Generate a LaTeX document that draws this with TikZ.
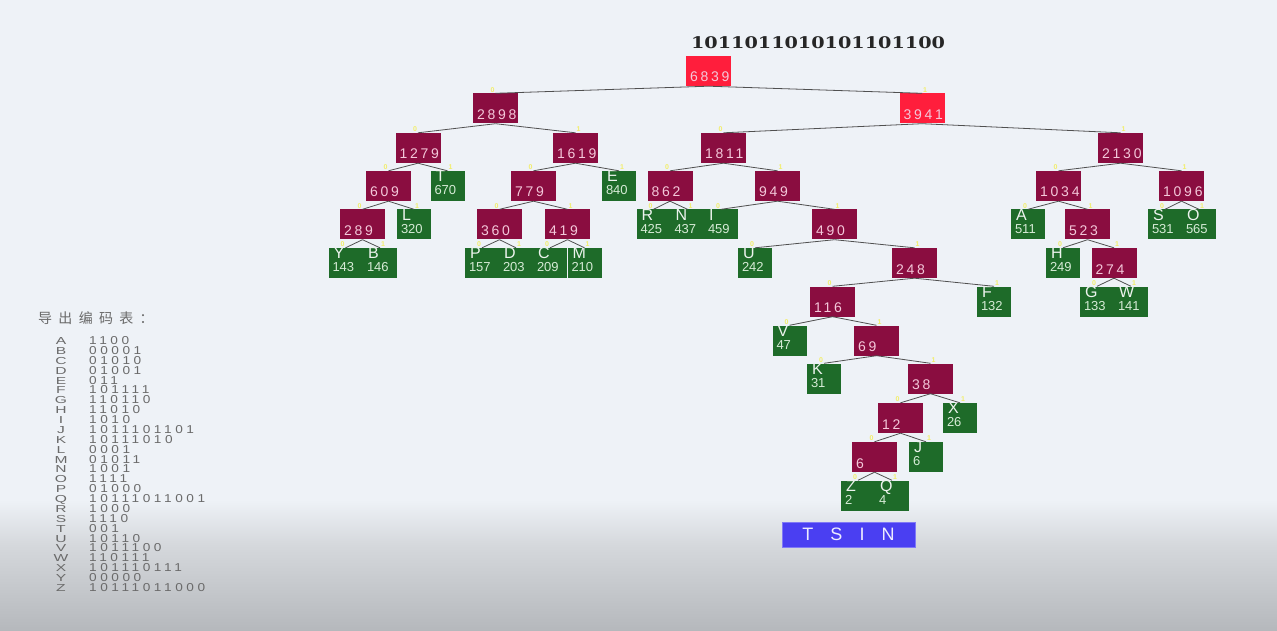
\documentclass[tikz,border=0pt]{standalone}
\usepackage{fontspec}
\usepackage{graphicx}
\setmainfont{Liberation Sans}
\newfontfamily\sumfont[LetterSpace=20]{Liberation Sans}
\newfontfamily\codefont[LetterSpace=26]{Liberation Sans}
\newfontfamily\bannerfont[LetterSpace=95]{Liberation Sans}
\newfontfamily\titlefont{DejaVu Serif}
\newfontfamily\cjkfont[LetterSpace=45]{Noto Sans CJK SC}
\definecolor{bg}{HTML}{EEF2F7}
\definecolor{bgmid}{HTML}{D5D8DC}
\definecolor{bgbot}{HTML}{B5B8BC}
\definecolor{maroon}{HTML}{8A0D40}
\definecolor{hotred}{HTML}{FF1E3C}
\definecolor{sumtext}{HTML}{F4C8DA}
\definecolor{leafgreen}{HTML}{1E6B29}
\definecolor{leaftext}{HTML}{D6EBD6}
\definecolor{edgegray}{HTML}{505050}
\definecolor{bityellow}{HTML}{F2EE6A}
\definecolor{tablegray}{HTML}{6A6A6A}
\definecolor{bannerblue}{HTML}{4A3FF2}
\usetikzlibrary{positioning}
\tikzset{
  sumbox/.style={fill=maroon, minimum width=45pt, minimum height=30pt,
    inner xsep=4pt, inner ysep=0pt, text width=37pt, align=left,
    text height=22pt, text depth=0pt, text=sumtext,
    font=\sumfont\fontsize{14}{14}\selectfont},
  rootbox/.style={sumbox, fill=hotred},
  leafbox/.style={fill=leafgreen, minimum width=34pt, minimum height=30pt,
    inner xsep=4pt, inner ysep=0pt, text width=26pt, align=left,
    text height=17.3pt, text depth=0pt, text=leaftext,
    font=\fontsize{13}{13}\selectfont},
  lettxt/.style={anchor=base west, xshift=5pt, yshift=-11pt, inner sep=0pt,
    text=white!92!leafgreen, font=\fontsize{16}{16}\selectfont},
  edge/.style={draw=edgegray, line width=0.8pt},
  bit/.style={anchor=south, inner sep=0.5pt, text=bityellow,
    font=\bfseries\fontsize{7}{7}\selectfont},
  bit0/.style={xshift=-3pt},
  bit1/.style={xshift=3pt},
  codetxt/.style={inner sep=0pt, text=tablegray, font=\codefont\fontsize{13}{13}\selectfont},
  keytxt/.style={anchor=base, inner sep=0pt, text=tablegray, font=\fontsize{13}{13}\selectfont},
  banner/.style={fill=bannerblue, draw=bannerblue!70!white, line width=1pt,
    minimum width=133pt, minimum height=25pt, text=white!90!bannerblue,
    font=\bannerfont\fontsize{18}{18}\selectfont}
}
\begin{document}
\begin{tikzpicture}[x=1pt, y=-1pt]
  \useasboundingbox (0,0) rectangle (1277,631);
  \fill[bg] (0,0) rectangle (1277,631);
  \shade[top color=bg, bottom color=bgmid] (0,500) rectangle (1277,545);
  \shade[top color=bgmid, bottom color=bgbot] (0,545) rectangle (1277,631);

  \node[anchor=center, text=black!85, font=\titlefont\bfseries\fontsize{16}{16}\selectfont]
    (code) at (818,43) {\scalebox{1.2}[1]{1011011010101101100}};

  \node[rootbox] (n6839) at (708.5,71) {6839};
  \node[rootbox] (n3941) at (922,108.5) {3941};
  \foreach \w/\x/\y in {2898/495.5/108.5, 1279/418/148, 1619/575.5/148,
      1811/723.5/148, 2130/1120.5/148, 609/388.5/186, 779/533.5/186,
      862/670/186, 949/777.5/186, 1034/1058.5/186, 1096/1181.5/186,
      289/362.5/224.5, 360/499.5/224.5, 419/567.5/224.5, 490/834.5/224.5,
      523/1087.5/224.5, 248/914.5/263, 274/1114/263, 116/832.5/301.5,
      69/876.5/340.5, 38/930.5/378.5, 12/900.5/418, 6/874.5/457}
    \node[sumbox] (n\w) at (\x,\y) {\w};

  \foreach \l/\x/\y/\w in {T/447.5/186/670, E/619/186/840, L/414/224.5/320,
      R/653.5/224.5/425, N/687.5/224.5/437, I/721/224.5/459, A/1028/224.5/511,
      S/1165/224.5/531, O/1199/224.5/565, Y/345.5/263/143, B/380/263/146,
      P/482/263/157, D/516/263/203, C/550/263/209, M/584.5/263/210,
      U/755/263/242, H/1063/263/249, F/994/301.5/132, G/1097/301.5/133,
      W/1131/301.5/141, V/789.5/340.5/47, K/824/378.5/31, X/960/418/26,
      J/926/457/6, Z/858/495.5/2, Q/892/495.5/4}
    \node[leafbox, label={[lettxt]north west:\l}] (l\l) at (\x,\y) {\w};

  \foreach \p/\c/\b in {n6839/n2898/0, n6839/n3941/1, n2898/n1279/0, n2898/n1619/1,
      n1279/n609/0, n1279/lT/1, n609/n289/0, n609/lL/1, n289/lY/0, n289/lB/1,
      n1619/n779/0, n1619/lE/1, n779/n360/0, n779/n419/1, n360/lP/0, n360/lD/1,
      n419/lC/0, n419/lM/1, n3941/n1811/0, n3941/n2130/1, n1811/n862/0,
      n1811/n949/1, n862/lR/0, n862/lN/1, n949/lI/0, n949/n490/1, n490/lU/0,
      n490/n248/1, n248/n116/0, n248/lF/1, n116/lV/0, n116/n69/1, n69/lK/0,
      n69/n38/1, n38/n12/0, n38/lX/1, n12/n6/0, n12/lJ/1, n6/lZ/0, n6/lQ/1,
      n2130/n1034/0, n2130/n1096/1, n1034/lA/0, n1034/n523/1, n523/lH/0,
      n523/n274/1, n274/lG/0, n274/lW/1, n1096/lS/0, n1096/lO/1}
    \draw[edge] (\p.south) -- (\c.north) node[bit, bit\b] (b\c) {\b};

  \node[banner] (tsin) at (848.5,534.5) {TSIN};

  \node[anchor=west, inner sep=0pt, text=tablegray, font=\cjkfont\fontsize{14}{14}\selectfont]
    (head) at (38,318) {导出编码表：};
  \foreach \l/\c [count=\i from 0] in {A/1100, B/00001, C/01010, D/01001, E/011,
      F/101111, G/110110, H/11010, I/1010, J/1011101101, K/10111010, L/0001,
      M/01011, N/1001, O/1111, P/01000, Q/10111011001, R/1000, S/1110, T/001,
      U/10110, V/1011100, W/110111, X/101110111, Y/00000, Z/10111011000}
  {
    \node[keytxt] (k\l) at (61,{344.5+9.88*\i}) {\scalebox{1.2}[0.78]{\l}};
    \node[codetxt, anchor=base west] (c\l) at (89,{344.5+9.88*\i}) {\scalebox{1.05}[0.88]{\c}};
  }
\end{tikzpicture}
\end{document}
